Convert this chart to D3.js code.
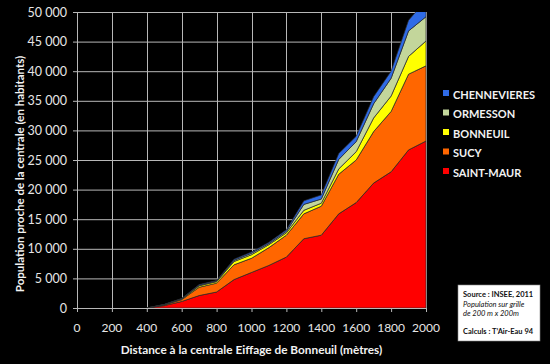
<!DOCTYPE html>
<html>
<head>
<meta charset="utf-8">
<script src="https://cdn.jsdelivr.net/npm/d3@7"></script>
<style>
  html, body { margin: 0; padding: 0; background: #000; overflow: hidden; }
  svg { display: block; }
</style>
</head>
<body>
<div id="chart"></div>
<script>
// Distances (m) and population per commune (stacked, bottom to top)
const distances = [400, 500, 600, 700, 800, 900, 1000, 1100, 1200, 1300, 1400, 1500, 1600, 1700, 1800, 1900, 2000];
const saintMaur = [0, 400, 1100, 2100, 2700, 4800, 6000, 7200, 8600, 11700, 12300, 15900, 17800, 21100, 23000, 26700, 28200];
const sucy = [0, 120, 300, 1400, 1500, 2500, 2400, 3000, 3700, 4200, 4900, 6700, 7200, 8700, 10200, 12800, 12700];
const bonneuil = [0, 40, 100, 250, 250, 550, 600, 500, 400, 600, 500, 900, 1400, 2300, 2600, 3000, 4200];
const ormesson = [0, 30, 60, 100, 100, 200, 250, 200, 250, 1000, 700, 1600, 1700, 2400, 3000, 4300, 4100];
const chennevieres = [0, 30, 60, 100, 100, 200, 200, 200, 250, 600, 700, 1000, 900, 1200, 1200, 1800, 2800];

const seriesNames = ['SAINT-MAUR', 'SUCY', 'BONNEUIL', 'ORMESSON', 'CHENNEVIERES'];
const seriesColors = ['#ff0000', '#ff6600', '#ffff00', '#c3d69b', '#2f6be6'];
const xTicks = [0, 200, 400, 600, 800, 1000, 1200, 1400, 1600, 1800, 2000];
const yTicks = [0, 5000, 10000, 15000, 20000, 25000, 30000, 35000, 40000, 45000, 50000];

const width = 550, height = 364;
const margin = { top: 12, right: 124, bottom: 56, left: 77 };
const innerWidth = width - margin.left - margin.right;
const innerHeight = height - margin.top - margin.bottom;

const table = distances.map((d, i) => ({
    dist: d,
    'SAINT-MAUR': saintMaur[i],
    'SUCY': sucy[i],
    'BONNEUIL': bonneuil[i],
    'ORMESSON': ormesson[i],
    'CHENNEVIERES': chennevieres[i]
}));

const svg = d3.select('#chart')
    .append('svg')
    .attr('width', width)
    .attr('height', height)
    .attr('font-family', 'Lato, "Open Sans", sans-serif');

svg.append('rect')
    .attr('width', width)
    .attr('height', height)
    .attr('fill', '#000');

const g = svg.append('g')
    .attr('transform', `translate(${margin.left},${margin.top})`);

const xScale = d3.scaleLinear().domain([0, 2000]).range([0, innerWidth]);
const yScale = d3.scaleLinear().domain([0, 50000]).range([innerHeight, 0]);

const frFormat = d3.formatLocale({ decimal: ',', thousands: ' ', grouping: [3], currency: ['', ''] }).format(',');

// Grid
g.append('g')
    .selectAll('line')
    .data(yTicks.slice(1))
    .enter()
    .append('line')
    .attr('x1', 0)
    .attr('x2', innerWidth)
    .attr('y1', d => yScale(d) + 0.5)
    .attr('y2', d => yScale(d) + 0.5)
    .attr('stroke', '#b8b8b8')
    .attr('stroke-width', 1);

g.append('g')
    .selectAll('line')
    .data(xTicks.slice(1))
    .enter()
    .append('line')
    .attr('x1', d => Math.round(xScale(d)) + 0.5)
    .attr('x2', d => Math.round(xScale(d)) + 0.5)
    .attr('y1', 0)
    .attr('y2', innerHeight)
    .attr('stroke', '#b8b8b8')
    .attr('stroke-width', 1);

// Stacked areas
const stack = d3.stack().keys(seriesNames);
const layers = stack(table);

const area = d3.area()
    .x(d => xScale(d.data.dist))
    .y0(d => yScale(d[0]))
    .y1(d => yScale(d[1]));

svg.append('defs')
    .append('clipPath')
    .attr('id', 'plot-clip')
    .append('rect')
    .attr('width', innerWidth + 1)
    .attr('height', innerHeight);

g.append('g')
    .attr('clip-path', 'url(#plot-clip)')
    .selectAll('path')
    .data(layers)
    .enter()
    .append('path')
    .attr('d', area)
    .attr('fill', (d, i) => seriesColors[i])
    .attr('stroke', '#2a2a2a')
    .attr('stroke-width', 0.7);

// Axes (lines from d3 axes, labels placed with the same scales)
const xAxis = g.append('g')
    .attr('transform', `translate(0,${innerHeight})`)
    .call(d3.axisBottom(xScale).tickValues(xTicks).tickFormat('').tickSize(4));

const yAxis = g.append('g')
    .call(d3.axisLeft(yScale).tickValues(yTicks).tickFormat('').tickSize(4));

[xAxis, yAxis].forEach(ax => {
    ax.select('.domain').attr('stroke', '#b8b8b8');
    ax.selectAll('.tick line').attr('stroke', '#b8b8b8');
    ax.selectAll('text').remove();
});

g.append('g')
    .selectAll('text')
    .data(xTicks)
    .enter()
    .append('text')
    .attr('x', d => xScale(d))
    .attr('y', innerHeight + 24)
    .attr('text-anchor', 'middle')
    .attr('font-size', 12)
    .attr('fill', '#e6e6e6')
    .text(d => d);

g.append('g')
    .selectAll('text')
    .data(yTicks)
    .enter()
    .append('text')
    .attr('x', -10)
    .attr('y', d => yScale(d) + 4.5)
    .attr('text-anchor', 'end')
    .attr('font-size', 12.5)
    .attr('fill', '#e6e6e6')
    .text(d => frFormat(d));

// Axis titles
svg.append('text')
    .attr('x', margin.left + innerWidth / 2)
    .attr('y', 354)
    .attr('text-anchor', 'middle')
    .attr('font-size', 11.8)
    .attr('font-weight', 'bold')
    .attr('fill', '#f2f2f2')
    .text('Distance à la centrale Eiffage de Bonneuil (mètres)');

svg.append('text')
    .attr('transform', `translate(24, 174) rotate(-90)`)
    .attr('text-anchor', 'middle')
    .attr('font-size', 11.5)
    .attr('font-weight', 'bold')
    .attr('fill', '#f2f2f2')
    .text('Population proche de la centrale (en habitants)');

// Legend (top to bottom = reverse of stack)
const legend = svg.append('g')
    .attr('transform', 'translate(443, 94)');

const legendItems = seriesNames.slice().reverse();
const legendColors = seriesColors.slice().reverse();

legend.selectAll('rect')
    .data(legendItems)
    .enter()
    .append('rect')
    .attr('x', 0)
    .attr('y', (d, i) => i * 19.5 - 4)
    .attr('width', 6)
    .attr('height', 6)
    .attr('fill', (d, i) => legendColors[i]);

legend.selectAll('text')
    .data(legendItems)
    .enter()
    .append('text')
    .attr('x', 10)
    .attr('y', (d, i) => i * 19.5 + 4.5)
    .attr('font-size', 11)
    .attr('font-weight', 'bold')
    .attr('fill', '#f2f2f2')
    .text(d => d);

// Source box
const src = svg.append('g')
    .attr('transform', 'translate(458, 285)');

src.append('rect')
    .attr('width', 82)
    .attr('height', 56)
    .attr('fill', '#fff')
    .attr('stroke', '#888')
    .attr('stroke-width', 0.6);

const srcLines = [
    { t: 'Source : INSEE, 2011', bold: true, italic: false, y: 12 },
    { t: 'Population sur grille', bold: false, italic: true, y: 21.5 },
    { t: 'de 200 m x 200m', bold: false, italic: true, y: 31 },
    { t: 'Calculs : T\u2019Air-Eau 94', bold: true, italic: false, y: 49 }
];

src.selectAll('text')
    .data(srcLines)
    .enter()
    .append('text')
    .attr('x', 5)
    .attr('y', d => d.y)
    .attr('font-size', 7.5)
    .attr('font-weight', d => d.bold ? 'bold' : 'normal')
    .attr('font-style', d => d.italic ? 'italic' : 'normal')
    .attr('fill', '#111')
    .text(d => d.t);
</script>
</body>
</html>
